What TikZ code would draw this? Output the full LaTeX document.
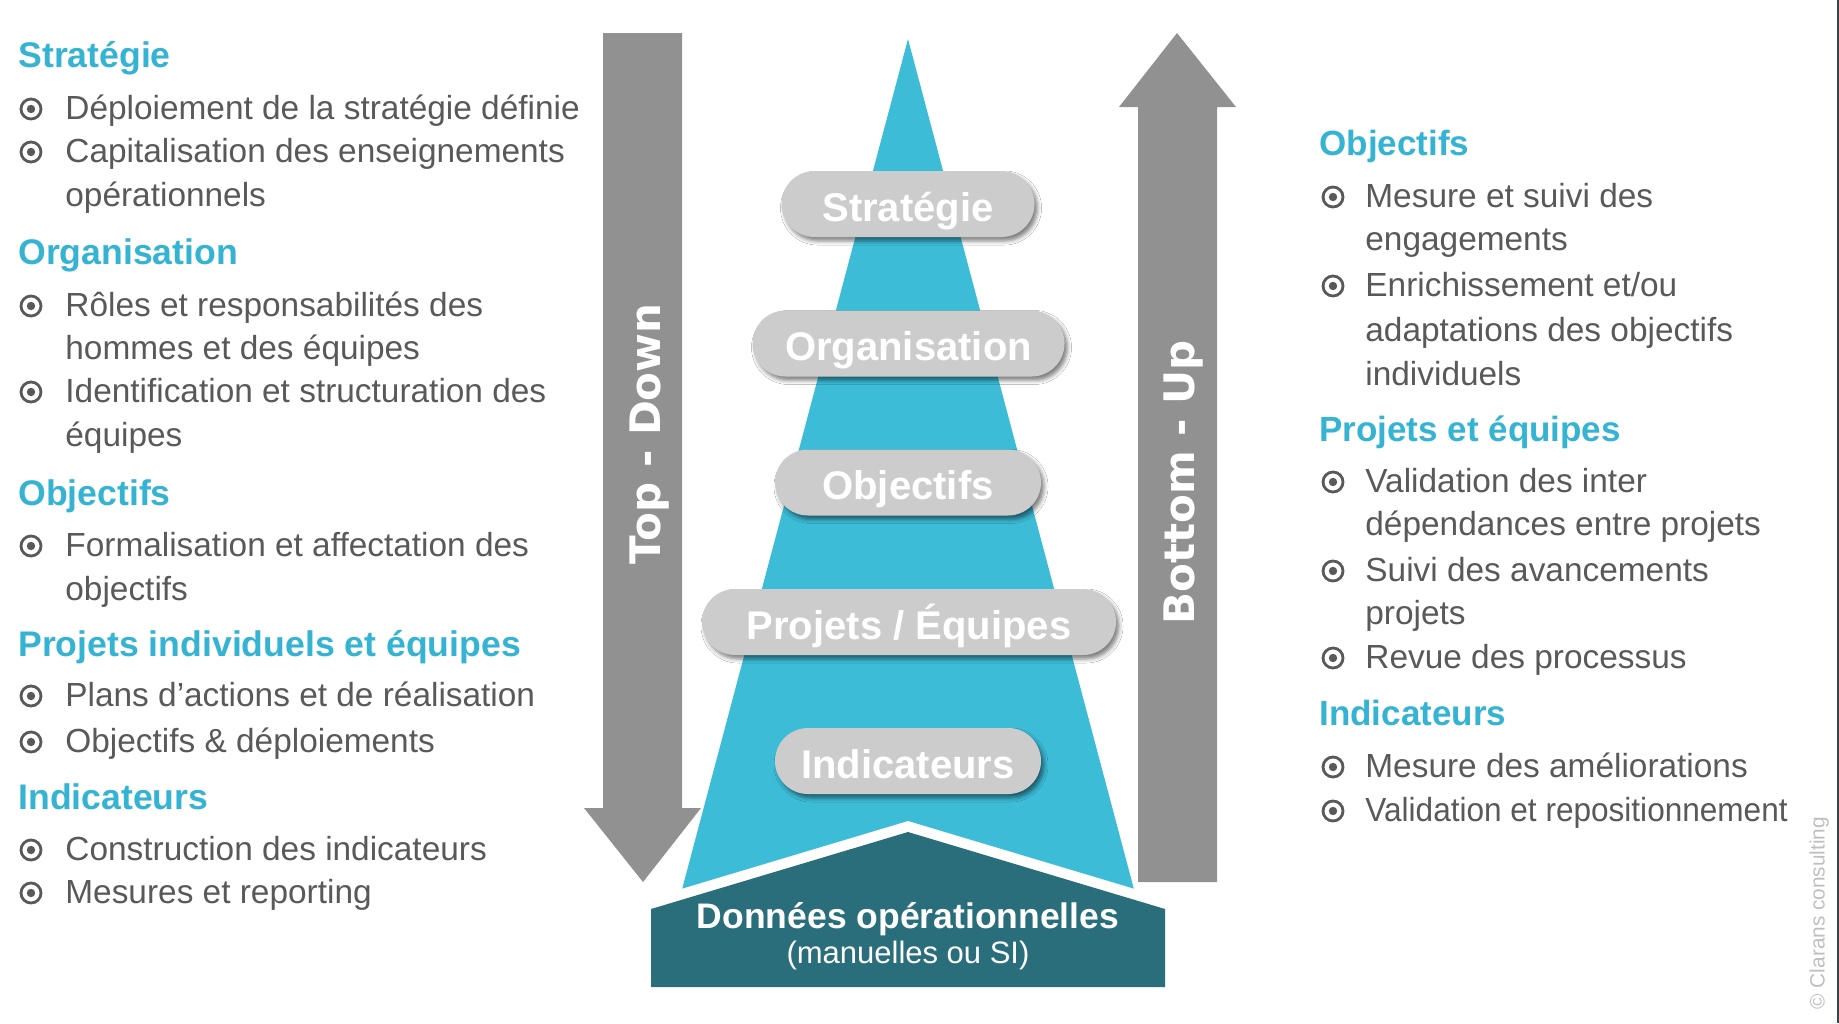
\documentclass[tikz,border=0pt]{standalone}
\usepackage{fontspec}
\setmainfont{Liberation Sans}
\newfontfamily\vfont{DejaVu Sans}
\usetikzlibrary{shadows.blur}
\definecolor{cyanP}{HTML}{3DBCD8}
\definecolor{headC}{HTML}{35B3D3}
\definecolor{tealD}{HTML}{296E7A}
\definecolor{arrowG}{HTML}{919191}
\definecolor{pillG}{HTML}{CCCCCC}
\definecolor{txtG}{HTML}{595959}
\definecolor{copyG}{HTML}{BFBFBF}
\definecolor{edgeG}{HTML}{3F4348}
\begin{document}
\begin{tikzpicture}[x=0.5pt,y=-0.5pt,
  head/.style={anchor=base west,inner sep=0,text=headC,font=\fontsize{17.8}{21}\selectfont\bfseries},
  rhead/.style={head,font=\fontsize{17.5}{21}\selectfont\bfseries},
  body/.style={anchor=base west,inner sep=0,text=txtG,font=\fontsize{16.7}{20}\selectfont},
  bul/.style={circle,draw=txtG,line width=1.4pt,minimum size=10pt,inner sep=0,
     path picture={\fill[txtG] (path picture bounding box.center) circle (2.1pt);}},
  pill/.style={rounded corners=16.5pt,fill=pillG,minimum height=33pt,inner sep=0,
     text=white,font=\fontsize{20}{24}\selectfont\bfseries,text height=19pt,text depth=2pt,
     blur shadow={shadow xshift=1.5pt,shadow yshift=-2pt,shadow blur radius=2pt,shadow opacity=50}},
  vlabel/.style={rotate=90,inner sep=0,text=white,font=\vfont\fontsize{21}{25}\selectfont\bfseries,
     text height=15.3pt,text depth=0pt},
  bigarrow/.style={fill=arrowG,draw=none}
]
\useasboundingbox (0,0) rectangle (1839,1023);
\fill[white] (0,0) rectangle (1839,1023);
\fill[edgeG] (1836.5,0) rectangle (1839,1023);

% arrows
\fill[bigarrow] (603,33) -- (682,33) -- (682,808) -- (701,808) -- (643,882) -- (584,808) -- (603,808) -- cycle;
\fill[bigarrow] (1138,882) -- (1217,882) -- (1217,107) -- (1236,107) -- (1177,33) -- (1119,107) -- (1138,107) -- cycle;
\node[vlabel] (td) at (645,434) {Top - Down};
\node[vlabel] (bu) at (1179,482.5) {Bottom - Up};

% pyramid
\fill[cyanP] (908,39) -- (1140,912) -- (676,912) -- cycle;
\draw[white,line width=10.5pt,line join=miter] (651,909) -- (908,832) -- (1165,909) -- (1165,987) -- (651,987) -- cycle;
\fill[tealD] (651,909) -- (908,832) -- (1165,909) -- (1165,987) -- (651,987) -- cycle;
\node[anchor=base,inner sep=0,text=white,font=\fontsize{17.75}{21}\selectfont\bfseries] (don) at (908,928) {Données opérationnelles};
\node[anchor=base,inner sep=0,text=white,font=\fontsize{15.5}{19}\selectfont] (man) at (908,963) {(manuelles ou SI)};

% pills
\node[pill,minimum width=126.5pt] (pS) at (908,204) {Stratégie};
\node[pill,minimum width=156pt] (pO) at (908.5,343.5) {Organisation};
\node[pill,minimum width=133pt] (pB) at (908,482.5) {Objectifs};
\node[pill,minimum width=207pt] (pP) at (909,622) {Projets / Équipes};
\node[pill,minimum width=133pt] (pI) at (908,761) {Indicateurs};

% left column
\node[head] (lh1) at (18,67) {Stratégie};
\node[bul] (lb1) at (31,109) {}; \node[body] (lt1) at (65,119) {Déploiement de la stratégie définie};
\node[bul] (lb2) at (31,152) {}; \node[body] (lt2) at (65,162) {Capitalisation des enseignements};
\node[body] (lt2b) at (65,206) {opérationnels};
\node[head] (lh2) at (18,264) {Organisation};
\node[bul] (lb3) at (31,306) {}; \node[body] (lt3) at (65,316) {Rôles et responsabilités des};
\node[body] (lt3b) at (65,359) {hommes et des équipes};
\node[bul] (lb4) at (31,392) {}; \node[body] (lt4) at (65,402) {Identification et structuration des};
\node[body] (lt4b) at (65,446) {équipes};
\node[head] (lh3) at (18,505) {Objectifs};
\node[bul] (lb5) at (31,546) {}; \node[body] (lt5) at (65,556) {Formalisation et affectation des};
\node[body] (lt5b) at (65,600) {objectifs};
\node[head] (lh4) at (18,656) {Projets individuels et équipes};
\node[bul] (lb6) at (31,696) {}; \node[body] (lt6) at (65,706) {Plans d’actions et de réalisation};
\node[bul] (lb7) at (31,742) {}; \node[body] (lt7) at (65,752) {Objectifs \& déploiements};
\node[head] (lh5) at (18,809) {Indicateurs};
\node[bul] (lb8) at (31,850) {}; \node[body] (lt8) at (65,860) {Construction des indicateurs};
\node[bul] (lb9) at (31,893) {}; \node[body] (lt9) at (65,903) {Mesures et reporting};

% right column
\node[rhead] (rh1) at (1319,155) {Objectifs};
\node[bul] (rb1) at (1333,197) {}; \node[body] (rt1) at (1365,207) {Mesure et suivi des};
\node[body] (rt1b) at (1365,250) {engagements};
\node[bul] (rb2) at (1333,286) {}; \node[body] (rt2) at (1365,296) {Enrichissement et/ou};
\node[body] (rt2b) at (1365,341) {adaptations des objectifs};
\node[body] (rt2c) at (1365,385) {individuels};
\node[rhead] (rh2) at (1319,441) {Projets et équipes};
\node[bul] (rb3) at (1333,482) {}; \node[body] (rt3) at (1365,492) {Validation des inter};
\node[body] (rt3b) at (1365,535) {dépendances entre projets};
\node[bul] (rb4) at (1333,571) {}; \node[body] (rt4) at (1365,581) {Suivi des avancements};
\node[body] (rt4b) at (1365,624) {projets};
\node[bul] (rb5) at (1333,658) {}; \node[body] (rt5) at (1365,668) {Revue des processus};
\node[rhead] (rh3) at (1319,725) {Indicateurs};
\node[bul] (rb6) at (1333,767) {}; \node[body] (rt6) at (1365,777) {Mesure des améliorations};
\node[bul] (rb7) at (1333,811) {}; \node[body] (rt7) at (1365,821) {\scalebox{0.945}[1]{Validation et repositionnement}};

% copyright
\node[rotate=90,inner sep=0,text=copyG,font=\fontsize{10.4}{13}\selectfont,text height=7.5pt,text depth=0pt] (cpy) at (1817,913) {© Clarans consulting};
\end{tikzpicture}
\end{document}
